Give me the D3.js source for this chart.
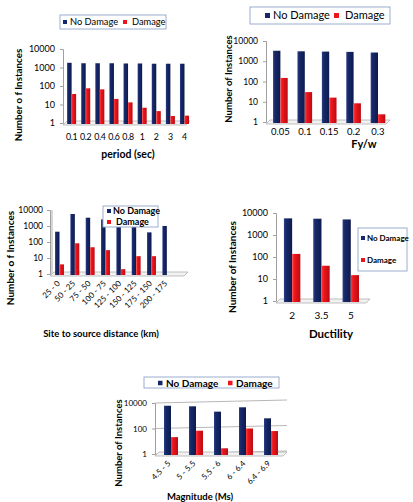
<!DOCTYPE html>
<html><head><meta charset="utf-8">
<script src="https://cdn.jsdelivr.net/npm/d3@7"></script>
<style>body{margin:0;background:#fff}svg{display:block;font-family:Lato,"Open Sans",sans-serif}</style>
</head><body><svg id="c" width="413" height="502"></svg>
<script>
// ---- data ----
const seriesNames = ["No Damage", "Damage"];

const periodCats = ["0.1","0.2","0.4","0.6","0.8","1","2","3","4"];
const periodNoDamage = [1800,1700,1700,1700,1650,1650,1600,1600,1600];
const periodDamage = [37,75,66,20,13,6.7,4.4,2.4,2.5];

const fywCats = ["0.05","0.1","0.15","0.2","0.3"];
const fywNoDamage = [3300,3100,3000,2900,2700];
const fywDamage = [150,30,16,8.4,2.4];

const distCats = ["25 - 0","50 - 25","75 - 50","100 - 75","125 - 100","150 - 125","175 - 150","200 - 175",""];
const distNoDamage = [440,5600,3300,2600,1000,900,400,1000,null];
const distDamage = [4,83,47,31,2,13,13,null,null];

const ductCats = ["2","3.5","5"];
const ductNoDamage = [5700,5500,5100];
const ductDamage = [138,40,15];

const magCats = ["4.5 - 5","5 - 5.5","5.5 - 6","6 - 6.4","6.4 - 6.9"];
const magNoDamage = [6100,5500,2100,4600,630];
const magDamage = [21,67,2.8,100,63];

const yTicks4 = [1,10,100,1000,10000];
const yTicks2 = [1,100,10000];

// ---- drawing ----
const svg = d3.select("#c");
const defs = svg.append("defs");
function grad(id, stops){
  const g = defs.append("linearGradient").attr("id", id).attr("x1","0").attr("x2","1").attr("y1","0").attr("y2","0");
  stops.forEach(s => g.append("stop").attr("offset", s[0]).attr("stop-color", s[1]));
}
grad("gNavy", [["0","#2c4088"],["0.25","#17296a"],["1","#0d1a4c"]]);
grad("gRed", [["0","#ff4040"],["0.3","#ee151c"],["1","#b90c12"]]);
const fills = ["url(#gNavy)", "url(#gRed)"];
const swatch = ["#15286a", "#ec151c"];

function drawChart(o){
  const g = svg.append("g");
  const x = d3.scaleBand().domain(o.cats).range(o.xr).padding(0);
  const y = d3.scaleLog().domain([1,10000]).range(o.yr);
  const step = x.step();
  const y0 = o.yr[0];
  if (o.wall){
    g.append("rect").attr("x", o.xr[0]).attr("y", o.yr[1]).attr("width", 3).attr("height", y0 - o.yr[1])
      .attr("fill", "#d6d6d6");
  }
  if (o.grid){
    o.ticks.forEach(t => {
      g.append("line").attr("x1", o.xr[0]).attr("x2", o.gridEnd).attr("y1", y(t)).attr("y2", y(t)-3)
        .attr("stroke", "#b8b8b8").attr("stroke-width", 1);
    });
  }
  const ax = d3.axisLeft(y).tickValues(o.ticks).tickFormat(d3.format("d")).tickSize(3).tickPadding(o.tickPad || 5);
  const ag = g.append("g").attr("transform", `translate(${o.xr[0]},0)`).call(ax);
  ag.select(".domain").attr("stroke", "#a0a0a0");
  ag.selectAll(".tick line").attr("stroke", "#a0a0a0");
  ag.selectAll("text").attr("font-size", o.tickFs).attr("fill", "#000").attr("font-family", "Lato, sans-serif");
  const fl = o.floorEnd || o.xr[1];
  g.append("path").attr("d", `M${o.xr[0]},${y0+2}L${fl-4},${y0+2}L${fl},${y0-2}L${o.xr[0]+4},${y0-2}Z`)
    .attr("fill", "#f2f2f2").attr("stroke", "#b0b0b0").attr("stroke-width", 0.8);
  const series = [o.s1, o.s2];
  series.forEach((vals, si) => {
    g.selectAll(null).data(o.cats.map((c,i)=>({c, v: vals[i]})).filter(d => d.v != null))
      .enter().append("rect")
      .attr("x", d => x(d.c) + step*o.off + si*step*o.bw)
      .attr("width", step*o.bw)
      .attr("y", d => y(d.v))
      .attr("height", d => y0 - y(d.v) + 1)
      .attr("fill", fills[si]);
  });
  const cx = c => x(c) + step*o.off + step*o.bw;
  if (o.rot){
    g.selectAll(null).data(o.cats.filter(c => c)).enter().append("text")
      .attr("transform", c => `translate(${cx(c)+o.labDx},${y0+o.labDy}) rotate(-45)`)
      .attr("text-anchor", "end").attr("font-size", o.labFs).text(c => c);
  } else {
    g.selectAll(null).data(o.cats).enter().append("text")
      .attr("x", c => cx(c)).attr("y", y0 + o.labDy).attr("text-anchor", "middle")
      .attr("font-size", o.labFs).attr("letter-spacing", o.labLs || 0).text(c => c);
  }
  g.append("text").attr("x", o.xt[0]).attr("y", o.xt[1]).attr("text-anchor", "middle")
    .attr("font-size", o.xtFs).attr("font-weight", "bold").text(o.xTitle);
  g.append("text").attr("transform", `translate(${o.yt[0]},${o.yt[1]}) rotate(-90)`).attr("text-anchor", "middle")
    .attr("font-size", o.ytFs).attr("font-weight", "bold").text(o.yTitle);
  const L = o.leg;
  g.append("rect").attr("x", L.x).attr("y", L.y).attr("width", L.w).attr("height", L.h)
    .attr("fill", "#fff").attr("stroke", "#9aaed0").attr("stroke-width", 1);
  seriesNames.forEach((n, i) => {
    const p = L.items[i];
    g.append("rect").attr("x", p[0]).attr("y", p[1]-L.sq/2).attr("width", L.sq).attr("height", L.sq).attr("fill", swatch[i]);
    g.append("text").attr("x", p[2]).attr("y", p[1]).attr("dy", "0.35em").attr("font-size", L.fs)
      .attr("font-weight", L.bold ? "bold" : "normal").text(n);
  });
}

drawChart({cats: periodCats, s1: periodNoDamage, s2: periodDamage, xr:[63,190], yr:[123,49], ticks: yTicks4,
  off:0.29, bw:0.32, tickFs:9, labFs:8.8, labLs:-0.3, labDy:17, rot:false, floorEnd:190,
  xTitle:"period (sec)", xt:[128,158], xtFs:10.5, yTitle:"Number o f Instances", yt:[22,95], ytFs:9.8,
  leg:{x:60,y:15,w:106,h:14, sq:4, fs:9.3, bold:false, items:[[63,22,70],[123,22,132]]}});

drawChart({cats: fywCats, s1: fywNoDamage, s2: fywDamage, xr:[266,388], yr:[122,41], ticks: yTicks4,
  off:0.29, bw:0.3, tickFs:8.5, labFs:9.5, labDy:13, rot:false, floorEnd:390,
  xTitle:"Fy/w", xt:[364,148], xtFs:11, yTitle:"Number of Instances", yt:[232,79], ytFs:9.5,
  leg:{x:250,y:7,w:140,h:17, sq:5, fs:11, bold:false, items:[[265,15.5,273],[334,15.5,345]]}});

drawChart({cats: distCats, s1: distNoDamage, s2: distDamage, xr:[50,188], yr:[274,210], ticks: yTicks4, wall:true,
  off:0.33, bw:0.29, tickFs:8.5, labFs:8, labDy:10, labDx:1, rot:true, floorEnd:188, tickPad:4,
  xTitle:"Site to source distance  (km)", xt:[101,337], xtFs:9.5, yTitle:"Number o f Instances", yt:[14,258], ytFs:10,
  leg:{x:103,y:206,w:55,h:21, sq:4, fs:9, bold:true, items:[[107,211,113],[107,222,116]]}});

drawChart({cats: ductCats, s1: ductNoDamage, s2: ductDamage, xr:[276,364], yr:[301,213], ticks: yTicks4,
  off:0.27, bw:0.28, tickFs:9, labFs:10, labDy:18, rot:false, floorEnd:370,
  xTitle:"Ductility", xt:[331,338], xtFs:11.5, yTitle:"Number of Instances", yt:[236,267], ytFs:10,
  leg:{x:358,y:228,w:49,h:43, sq:4, fs:8, bold:true, items:[[361,238,367],[361,260,367]]}});

drawChart({cats: magCats, s1: magNoDamage, s2: magDamage, xr:[155,280], yr:[454,403], ticks: yTicks2,
  off:0.36, bw:0.28, tickFs:8, labFs:8, labDy:10, labDx:0, rot:true, floorEnd:287, grid:true, gridEnd:287,
  xTitle:"Magnitude  (Ms)", xt:[200,500], xtFs:9.5, yTitle:"Number of Instances", yt:[122,443], ytFs:9.5,
  leg:{x:144,y:377,w:135,h:11, sq:4.5, fs:10, bold:true, items:[[158,383,166],[228,383,236]]}});
</script></body></html>
